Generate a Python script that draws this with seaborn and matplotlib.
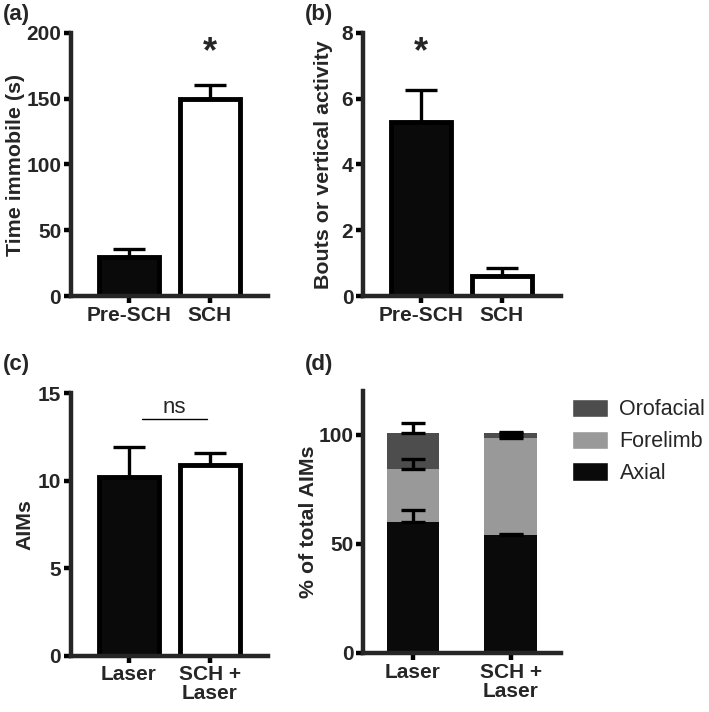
import matplotlib
matplotlib.use("Agg")
import matplotlib.pyplot as plt
from matplotlib.patches import Patch
import seaborn as sns
import numpy as np
import pandas as pd

# panel (a): time immobile
imm_groups = ["Pre-SCH", "SCH"]
imm_mean = [30, 150]
imm_err = [6, 10]

# panel (b): bouts of vertical activity
vert_groups = ["Pre-SCH", "SCH"]
vert_mean = [5.3, 0.6]
vert_err = [0.95, 0.27]

# panel (c): AIMs
aim_groups = ["Laser", "SCH +\nLaser"]
aim_mean = [10.2, 10.9]
aim_err = [1.7, 0.65]

# panel (d): % of total AIMs, stacked
pct_groups = ["Laser", "SCH +\nLaser"]
axial = [60.1, 54.1]
axial_err = [5.5, 0.4]
forelimb = [24.3, 44.4]
forelimb_err = [4.6, 0.9]
orofacial = [16.1, 2.3]
orofacial_err = [5.0, 0.3]

BLACK = "#0a0a0a"
GREY_DARK = "#4d4d4d"
GREY_LIGHT = "#999999"

sns.set_style("ticks")
plt.rcParams["font.family"] = ["Liberation Sans", "DejaVu Sans"]
plt.rcParams["font.weight"] = "bold"

SPINE_W = 3.2
ERR_W = 2.4
TICK_FS = 15
LABEL_FS = 15.4


def style_axis(ax, ylabel, label_x):
    sns.despine(ax=ax)
    for side in ["left", "bottom"]:
        ax.spines[side].set_linewidth(SPINE_W)
    ax.tick_params(axis="both", width=SPINE_W, length=5, labelsize=TICK_FS, pad=2, color="black")
    for lbl in ax.get_xticklabels() + ax.get_yticklabels():
        lbl.set_fontweight("bold")
        lbl.set_linespacing(1.0)
    ax.set_xlabel("")
    ax.set_ylabel(ylabel, fontsize=LABEL_FS, fontweight="bold")
    ax.yaxis.set_label_coords(label_x, 0.5)


def plain_bars(ax, groups, means, errs, ylim, yticks, xlim):
    df = pd.DataFrame({"group": groups, "value": means})
    sns.barplot(data=df, x="group", y="value", hue="group", palette=[BLACK, "white"],
                legend=False, width=0.74, edgecolor="black", linewidth=3.5, ax=ax)
    ax.errorbar(x=np.arange(len(groups)), y=means, yerr=[np.zeros(len(errs)), errs],
                fmt="none", ecolor="black", elinewidth=ERR_W, capsize=11.5, capthick=ERR_W, zorder=1)
    ax.set_ylim(*ylim)
    ax.set_yticks(yticks)
    ax.set_xlim(*xlim)


fig = plt.figure(figsize=(7.09, 7.12), dpi=100)

ax_a = fig.add_axes([0.100, 0.584, 0.278, 0.370])
ax_b = fig.add_axes([0.512, 0.584, 0.279, 0.370])
ax_c = fig.add_axes([0.100, 0.079, 0.278, 0.369])
ax_d = fig.add_axes([0.512, 0.083, 0.279, 0.368])

plain_bars(ax_a, imm_groups, imm_mean, imm_err, (0, 200), [0, 50, 100, 150, 200], (-0.72, 1.72))
style_axis(ax_a, "Time immobile (s)", -0.233)
ax_a.text(1, 185, "*", ha="center", va="center", fontsize=26, fontweight="bold")

plain_bars(ax_b, vert_groups, vert_mean, vert_err, (0, 8), [0, 2, 4, 6, 8], (-0.72, 1.73))
style_axis(ax_b, "Bouts or vertical activity", -0.152)
ax_b.text(0, 7.4, "*", ha="center", va="center", fontsize=26, fontweight="bold")

plain_bars(ax_c, aim_groups, aim_mean, aim_err, (0, 15), [0, 5, 10, 15], (-0.72, 1.72))
style_axis(ax_c, "AIMs", -0.183)
ax_c.plot([0.16, 0.96], [13.5, 13.5], color="black", lw=1.0)
ax_c.text(0.56, 13.6, "ns", ha="center", va="bottom", fontsize=16, fontweight="normal")

# panel (d): stacked bars drawn back to front from cumulative heights
axial_a = np.array(axial)
fore_top = axial_a + np.array(forelimb)
oro_top = fore_top + np.array(orofacial)
df_d = pd.DataFrame({"group": pct_groups, "axial": axial_a, "fore": fore_top, "oro": oro_top})
for col, color in [("oro", GREY_DARK), ("fore", GREY_LIGHT), ("axial", BLACK)]:
    sns.barplot(data=df_d, x="group", y=col, color=color, width=0.54, linewidth=0,
                saturation=1, ax=ax_d)
xs = np.arange(len(pct_groups))
for tops, errs in [(axial_a, axial_err), (fore_top, forelimb_err), (oro_top, orofacial_err)]:
    ax_d.errorbar(x=xs, y=tops, yerr=[np.zeros(len(errs)), errs], fmt="none",
                  ecolor="black", elinewidth=ERR_W, capsize=8.5, capthick=ERR_W, zorder=5)
ax_d.set_ylim(0, 120)
ax_d.set_yticks([0, 50, 100])
ax_d.set_xlim(-0.51, 1.51)
style_axis(ax_d, "% of total AIMs", -0.228)

handles = [Patch(facecolor=GREY_DARK, label="Orofacial"),
           Patch(facecolor=GREY_LIGHT, label="Forelimb"),
           Patch(facecolor=BLACK, label="Axial")]
ax_d.legend(handles=handles, loc="upper left", bbox_to_anchor=(1.057, 0.97), frameon=False,
            prop={"size": 15.5, "weight": "normal"}, handlelength=1.65, handleheight=0.95,
            labelspacing=0.47, handletextpad=0.55, borderpad=0, borderaxespad=0)

for label, (x, y) in zip(["(a)", "(b)", "(c)", "(d)"],
                         [(0.004, 0.995), (0.430, 0.995), (0.004, 0.503), (0.430, 0.503)]):
    fig.text(x, y, label, ha="left", va="top", fontsize=16, fontweight="bold")

fig.savefig("out.png", dpi=100)
